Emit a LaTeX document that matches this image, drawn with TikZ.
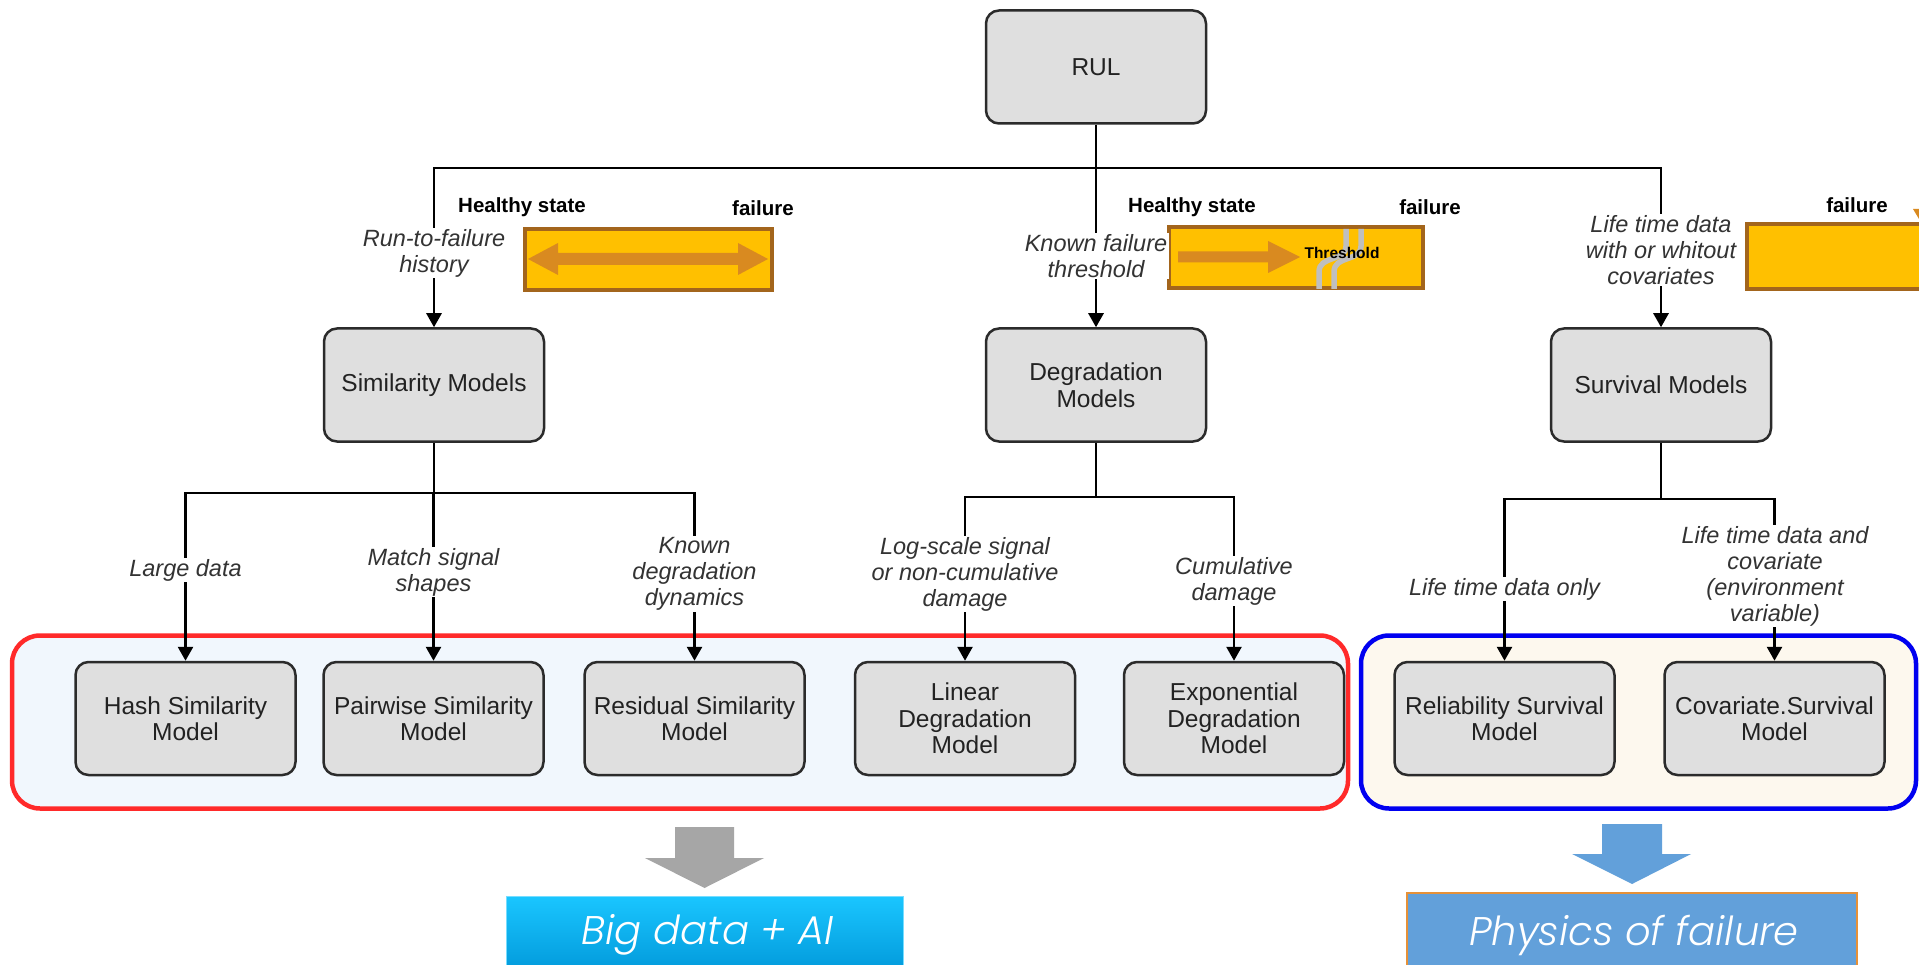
\documentclass[tikz,border=0pt]{standalone}
\usepackage{fontspec}
\setmainfont{Liberation Sans}
\newfontfamily\bigfont{Poppins Light Italic}
\usetikzlibrary{arrows.meta}
\definecolor{boxfill}{HTML}{DFDFDF}
\definecolor{boxline}{HTML}{2B2B2B}
\definecolor{textc}{HTML}{222222}
\definecolor{lblc}{HTML}{333333}
\definecolor{obfill}{HTML}{FFC000}
\definecolor{obline}{HTML}{A3651C}
\definecolor{obarrow}{HTML}{D98A20}
\definecolor{redg}{HTML}{FF2A2A}
\definecolor{redfill}{HTML}{F1F7FD}
\definecolor{blueg}{HTML}{0000F0}
\definecolor{bluefill}{HTML}{FDF8EE}
\definecolor{grayarrow}{HTML}{A6A6A6}
\definecolor{bluearrow}{HTML}{62A0DA}
\definecolor{cyantop}{HTML}{1AC6FF}
\definecolor{cyanbot}{HTML}{0096D8}
\definecolor{physline}{HTML}{E69138}
\definecolor{wave}{HTML}{BFBFBF}
\tikzset{
  model/.style={draw=boxline, fill=boxfill, line width=2.5pt, rounded corners=13pt,
    minimum width=220pt, minimum height=113pt, align=center,
    font=\fontsize{24.5}{26.5}\selectfont, text=textc, inner sep=2pt},
  lbl/.style={fill=white, align=center, font=\fontsize{23.5}{26}\selectfont\itshape,
    text=lblc, inner sep=1.5pt},
  hd/.style={font=\fontsize{20.5}{22}\selectfont\bfseries, inner sep=0pt},
  conn/.style={line width=2.7pt, draw=black},
  horiz/.style={conn, line cap=rect},
  arr/.style={conn, -{Triangle[length=14pt,width=15pt]}},
  obox/.style={draw=obline, fill=obfill, line width=4pt, inner sep=0pt},
  grp/.style={line width=4.5pt, rounded corners=28pt, inner sep=0pt},
  bigtxt/.style={text=white, font=\bigfont\fontsize{40}{42}\selectfont, inner sep=0pt}
}
\begin{document}
\begin{tikzpicture}[x=1pt,y=-1pt]
\path[use as bounding box] (0,0) rectangle (1919,965);
\clip (0,0) rectangle (1919,965);
\fill[white] (0,0) rectangle (1919,965);

% group frames
\node[grp, draw=redg, fill=redfill, minimum width=1336pt, minimum height=173pt] (redgrp) at (680,722) {};
\node[grp, draw=blueg, fill=bluefill, minimum width=555pt, minimum height=173pt] (bluegrp) at (1638.5,722) {};

% main boxes
\node[model] (rul) at (1096,67) {RUL};
\node[model] (sim) at (434,385) {Similarity Models};
\node[model] (deg) at (1096,385) {Degradation\\Models};
\node[model] (surv) at (1661,385) {Survival Models};

% leaf boxes
\node[model] (hash) at (185.5,718.5) {Hash Similarity\\Model};
\node[model] (pair) at (433.5,718.5) {Pairwise Similarity\\Model};
\node[model] (resid) at (694.5,718.5) {Residual Similarity\\Model};
\node[model] (lin) at (965,718.5) {Linear\\Degradation\\Model};
\node[model] (expo) at (1234,718.5) {Exponential\\Degradation\\Model};
\node[model] (reli) at (1504.5,718.5) {Reliability Survival\\Model};
\node[model] (cova) at (1774.5,718.5) {Covariate.Survival\\Model};

% level 1 connectors
\coordinate (j0) at (1096,168);
\coordinate (jL) at (434,168);
\coordinate (jR) at (1661,168);
\draw[conn] (rul.south) -- (j0);
\draw[horiz] (jL) -- (jR);
\draw[arr] (jL) -- (sim.north);
\draw[arr] (j0) -- (deg.north);
\draw[arr] (jR) -- (surv.north);

% level 2 connectors
\coordinate (sj) at (434,493);
\coordinate (dj) at (1096,497);
\coordinate (vj) at (1661,499);
\draw[conn] (sim.south) -- (sj);
\draw[conn] (deg.south) -- (dj);
\draw[conn] (surv.south) -- (vj);
\draw[horiz] (hash.north |- sj) -- (resid.north |- sj);
\draw[horiz] (lin.north |- dj) -- (expo.north |- dj);
\draw[horiz] (reli.north |- vj) -- (cova.north |- vj);
\draw[arr] (hash.north |- sj) -- (hash.north);
\draw[arr] (pair.north |- sj) -- (pair.north);
\draw[arr] (resid.north |- sj) -- (resid.north);
\draw[arr] (lin.north |- dj) -- (lin.north);
\draw[arr] (expo.north |- dj) -- (expo.north);
\draw[arr] (reli.north |- vj) -- (reli.north);
\draw[arr] (cova.north |- vj) -- (cova.north);

% orange boxes
\node[obox, minimum width=247pt, minimum height=61pt] (ob1) at (648.5,259.5) {};
\node[obox, minimum width=254pt, minimum height=61pt] (ob2) at (1296,257.5) {};
\node[obox, minimum width=200pt, minimum height=65pt] (ob3) at (1847,256.5) {};
\fill[obarrow] (528,259) -- (558,243) -- (558,253) -- (738,253) -- (738,243) -- (768,259)
  -- (738,275) -- (738,265) -- (558,265) -- (558,275) -- cycle;
\fill[obarrow] (1178,251.5) -- (1268,251.5) -- (1268,241) -- (1300,257) -- (1268,273) -- (1268,262.5) -- (1178,262.5) -- cycle;
\fill[obarrow] (1913,209) -- (1919,209) -- (1919,219) -- cycle;
\draw[wave, line width=5.5pt] (1319,289) -- (1319,272) .. controls (1319,255) and (1346,262) .. (1346,246) -- (1346,229);
\draw[wave, line width=5.5pt] (1334,289) -- (1334,272) .. controls (1334,255) and (1361,262) .. (1361,246) -- (1361,229);
\node[hd, font=\fontsize{15.5}{17}\selectfont\bfseries] (thr) at (1342,253) {Threshold};

% headings
\node[hd] (h1) at (522,207) {Healthy state};
\node[hd] (f1) at (763,208) {failure};
\node[hd] (h2) at (1192,207) {Healthy state};
\node[hd] (f2) at (1430,207) {failure};
\node[hd] (f3) at (1857,205) {failure};

% labels
\node[lbl] (l1) at (434,253) {Run-to-failure\\history};
\node[lbl] (l2) at (1096,256) {Known failure\\threshold};
\node[lbl] (l3) at (1661,250) {Life time data\\with or whitout\\covariates};
\node[lbl] (l4) at (185.5,570) {Large data};
\node[lbl] (l5) at (433.5,572) {Match signal\\shapes};
\node[lbl] (l6) at (694.5,574) {Known\\degradation\\dynamics};
\node[lbl] (l7) at (965,574) {Log-scale signal\\or non-cumulative\\damage};
\node[lbl] (l8) at (1234,581) {Cumulative\\damage};
\node[lbl] (l9) at (1504.5,589) {Life time data only};
\node[lbl] (l10) at (1775,576) {Life time data and\\covariate\\(environment\\variable)};

% bottom arrows and result boxes
\fill[grayarrow] (675,827) -- (734,827) -- (734,858) -- (764,858) -- (704.5,888) -- (645,858) -- (675,858) -- cycle;
\fill[bluearrow] (1602,824) -- (1662,824) -- (1662,854) -- (1691,854) -- (1632,884) -- (1572,854) -- (1602,854) -- cycle;
\node[draw=cyantop!60!white, line width=1pt, top color=cyantop, bottom color=cyanbot,
  minimum width=397pt, minimum height=82pt, inner sep=0pt] (bd) at (704.5,937) {};
\node[bigtxt] (bdt) at (708,935) {Big data + AI};
\node[draw=physline, line width=1.5pt, fill=bluearrow, minimum width=450pt, minimum height=84pt, inner sep=0pt] (pf) at (1632,935) {};
\node[bigtxt] (pft) at (1634,935) {Physics of failure};
\end{tikzpicture}
\end{document}
